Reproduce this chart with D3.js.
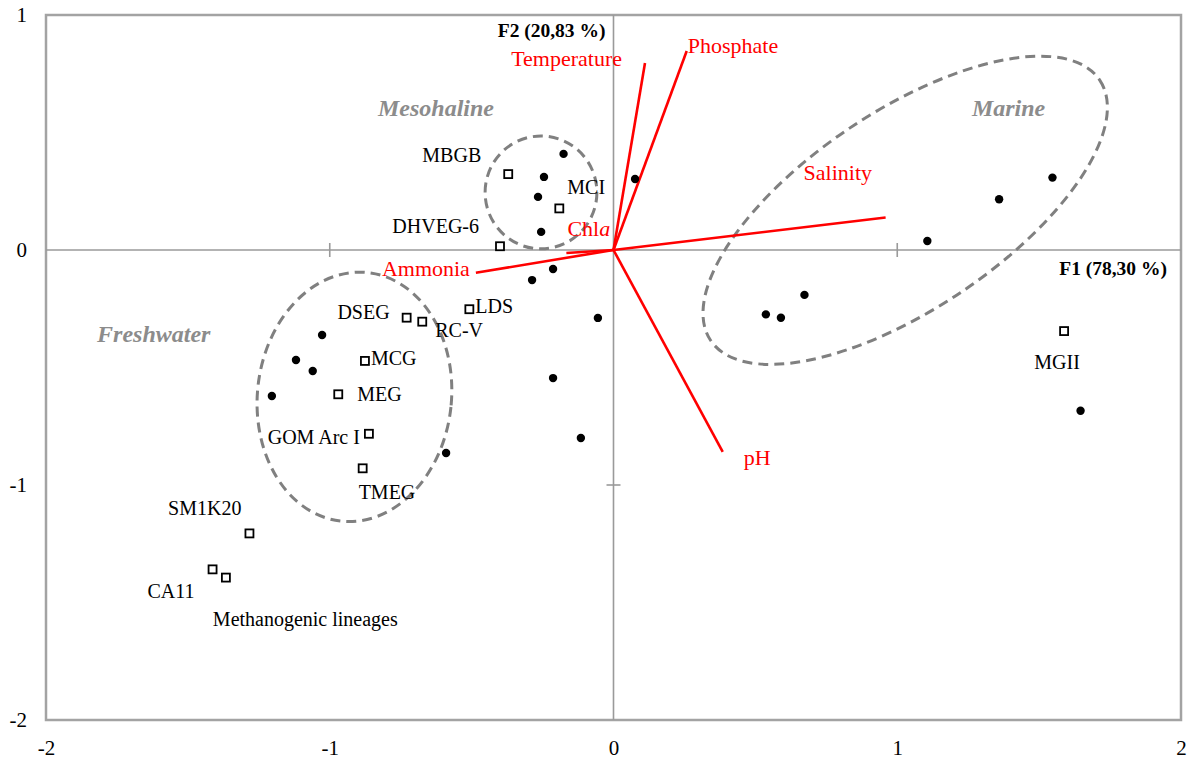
<!DOCTYPE html>
<html>
<head>
<meta charset="utf-8">
<script src="https://cdn.jsdelivr.net/npm/d3@7"></script>
<style>
  body { margin: 0; background: #fff; }
  svg { display: block; font-family: "Liberation Serif", "Times New Roman", serif; }
</style>
</head>
<body>
<div id="chart"></div>
<script>
// sites (black dots), F1 / F2 scores
var siteX = [-0.176, -0.245, -0.266, -0.255, 0.076, -0.213, -0.287, -0.055, -0.213, -0.115, -0.590,
             -1.027, -1.119, -1.060, -1.204, 1.106, 1.359, 1.547, 0.537, 0.590, 0.673, 1.646];
var siteY = [0.409, 0.311, 0.226, 0.077, 0.302, -0.081, -0.128, -0.289, -0.545, -0.800, -0.864,
             -0.362, -0.468, -0.515, -0.621, 0.038, 0.216, 0.308, -0.274, -0.288, -0.191, -0.684];

// archaeal lineages (open squares)
var lineageNames = ["MBGB", "MCI", "DHVEG-6", "LDS", "DSEG", "RC-V", "MCG", "MEG", "GOM Arc I",
                    "TMEG", "SM1K20", "CA11", "", "MGII"];
var lineageX = [-0.371, -0.191, -0.400, -0.508, -0.729, -0.674, -0.876, -0.970, -0.862,
                -0.884, -1.283, -1.413, -1.366, 1.588];
var lineageY = [0.323, 0.177, 0.016, -0.252, -0.288, -0.305, -0.472, -0.614, -0.782,
                -0.929, -1.206, -1.359, -1.394, -0.345];

// environmental variables (red vectors)
var varNames = ["Temperature", "Phosphate", "Salinity", "Ammonia", "pH", "Chla"];
var varX = [0.111, 0.258, 0.959, -0.485, 0.385, -0.166];
var varY = [0.796, 0.847, 0.138, -0.097, -0.859, -0.013];

var xTicks = [-2, -1, 0, 1, 2];
var yTicks = [-2, -1, 0, 1];

// label placement (px offsets from the mark)
var lineageLabelPos = {
  "MBGB": [-27, -12, "end"], "MCI": [8, -14, "start"], "DHVEG-6": [-21, -13, "end"],
  "LDS": [6, 4, "start"], "DSEG": [-17, 1, "end"], "RC-V": [13, 15, "start"],
  "MCG": [6, 4, "start"], "MEG": [19, 7, "start"], "GOM Arc I": [-9, 10, "end"],
  "TMEG": [-4, 31, "start"], "SM1K20": [-8, -18, "end"], "CA11": [-18, 29, "end"],
  "MGII": [-7, 38, "middle"]
};
var varLabelPos = {
  "Temperature": [-23, 3, "end"], "Phosphate": [1, 2, "start"], "Salinity": [-82, -38, "start"],
  "Ammonia": [-6, 3, "end"], "pH": [21, 13, "start"], "Chla": [1, -17, "start"]
};

// habitat groups: centre and radii in axis units, rotation in degrees
var groups = [
  { name: "Mesohaline", cx: -0.2555, cy: 0.245, rx: 0.197, ry: 0.240, rot: 0, lx: -0.830, ly: 0.570 },
  { name: "Freshwater", cx: -0.913, cy: -0.625, rx: 0.342, ry: 0.532, rot: 6, lx: -1.820, ly: -0.391 },
  { name: "Marine", cx: 1.028, cy: 0.169, rx: 0.825, ry: 0.422, rot: -33.8, lx: 1.263, ly: 0.570 }
];

var width = 1193, height = 764;
var margin = { left: 46, right: 12, top: 15, bottom: 44 };

var x = d3.scaleLinear().domain([-2, 2]).range([margin.left, width - margin.right]);
var y = d3.scaleLinear().domain([-2, 1]).range([height - margin.bottom, margin.top]);
var kx = x(1) - x(0), ky = y(0) - y(1);

var svg = d3.select("#chart").append("svg")
    .attr("width", width)
    .attr("height", height);

// frame
svg.append("rect")
    .attr("x", x(-2)).attr("y", y(1))
    .attr("width", x(2) - x(-2)).attr("height", y(-2) - y(1))
    .style("fill", "none").style("stroke", "#a3a3a3").style("stroke-width", 2.5);

// zero lines
svg.append("line")
    .attr("x1", x(-2)).attr("x2", x(2)).attr("y1", y(0)).attr("y2", y(0))
    .style("stroke", "#9a9a9a").style("stroke-width", 1.6);
svg.append("line")
    .attr("x1", x(0)).attr("x2", x(0)).attr("y1", y(1)).attr("y2", y(-2))
    .style("stroke", "#9a9a9a").style("stroke-width", 1.6);

// tick marks on the zero lines
svg.selectAll(".xt").data([-1, 1]).enter().append("line")
    .attr("x1", function (d) { return x(d); }).attr("x2", function (d) { return x(d); })
    .attr("y1", y(0) - 7).attr("y2", y(0) + 7)
    .style("stroke", "#9a9a9a").style("stroke-width", 1.6);
svg.selectAll(".yt").data([-1]).enter().append("line")
    .attr("x1", x(0) - 7).attr("x2", x(0) + 7)
    .attr("y1", function (d) { return y(d); }).attr("y2", function (d) { return y(d); })
    .style("stroke", "#9a9a9a").style("stroke-width", 1.6);

// tick labels
var gx = svg.append("g")
    .attr("transform", "translate(0," + y(-2) + ")")
    .call(d3.axisBottom(x).tickValues(xTicks).tickSize(0).tickPadding(20).tickFormat(d3.format("d")));
var gy = svg.append("g")
    .attr("transform", "translate(" + x(-2) + ",0)")
    .call(d3.axisLeft(y).tickValues(yTicks).tickSize(0).tickPadding(19).tickFormat(d3.format("d")));
[gx, gy].forEach(function (g) {
  g.select(".domain").remove();
  g.selectAll("text")
      .style("font-family", "Liberation Serif, serif")
      .style("font-size", "21px")
      .style("fill", "#000")
      .text(function (d) { return String(d); });
});

// habitat ellipses
svg.selectAll(".grp").data(groups).enter().append("ellipse")
    .attr("cx", 0).attr("cy", 0)
    .attr("rx", function (d) { return d.rx * kx; })
    .attr("ry", function (d) { return d.ry * ky; })
    .attr("transform", function (d) {
      return "translate(" + x(d.cx) + "," + y(d.cy) + ") rotate(" + d.rot + ")";
    })
    .style("fill", "none").style("stroke", "#808080")
    .style("stroke-width", 3).style("stroke-dasharray", "10,6");

svg.selectAll(".grplab").data(groups).enter().append("text")
    .attr("x", function (d) { return x(d.lx); })
    .attr("y", function (d) { return y(d.ly); })
    .style("font-size", "24px").style("font-weight", "bold").style("font-style", "italic")
    .style("fill", "#8c8c8c")
    .text(function (d) { return d.name; });

// environmental vectors
var vars = varNames.map(function (n, i) { return { name: n, x: varX[i], y: varY[i] }; });
svg.selectAll(".vec").data(vars).enter().append("line")
    .attr("x1", x(0)).attr("y1", y(0))
    .attr("x2", function (d) { return x(d.x); })
    .attr("y2", function (d) { return y(d.y); })
    .style("stroke", "#ff0000").style("stroke-width", 2.6);

var vlab = svg.selectAll(".veclab").data(vars).enter().append("text")
    .attr("x", function (d) { return x(d.x) + varLabelPos[d.name][0]; })
    .attr("y", function (d) { return y(d.y) + varLabelPos[d.name][1]; })
    .attr("text-anchor", function (d) { return varLabelPos[d.name][2]; })
    .style("font-size", "22px").style("fill", "#ff0000");
vlab.each(function (d) {
  var t = d3.select(this);
  if (d.name === "Chla") {
    t.append("tspan").text("Chl");
    t.append("tspan").style("font-style", "italic").text("a");
  } else {
    t.text(d.name);
  }
});

// sites
var sites = siteX.map(function (v, i) { return { x: v, y: siteY[i] }; });
svg.selectAll(".site").data(sites).enter().append("circle")
    .attr("cx", function (d) { return x(d.x); })
    .attr("cy", function (d) { return y(d.y); })
    .attr("r", 4.2)
    .style("fill", "#000");

// lineages
var lineages = lineageNames.map(function (n, i) { return { name: n, x: lineageX[i], y: lineageY[i] }; });
svg.selectAll(".lin").data(lineages).enter().append("rect")
    .attr("x", function (d) { return x(d.x) - 4; })
    .attr("y", function (d) { return y(d.y) - 4; })
    .attr("width", 8).attr("height", 8)
    .style("fill", "#fff").style("stroke", "#000").style("stroke-width", 1.8);

svg.selectAll(".linlab").data(lineages.filter(function (d) { return d.name; })).enter().append("text")
    .attr("x", function (d) { return x(d.x) + lineageLabelPos[d.name][0]; })
    .attr("y", function (d) { return y(d.y) + lineageLabelPos[d.name][1]; })
    .attr("text-anchor", function (d) { return lineageLabelPos[d.name][2]; })
    .style("font-size", "20px").style("fill", "#000")
    .text(function (d) { return d.name; });

svg.append("text")
    .attr("x", x(-1.412)).attr("y", y(-1.600))
    .style("font-size", "20px").style("fill", "#000")
    .text("Methanogenic lineages");

// axis titles
svg.append("text")
    .attr("x", x(0) - 8).attr("y", y(1) + 22)
    .attr("text-anchor", "end")
    .style("font-size", "19.5px").style("font-weight", "bold")
    .text("F2 (20,83 %)");
svg.append("text")
    .attr("x", x(2) - 14).attr("y", y(0) + 25)
    .attr("text-anchor", "end")
    .style("font-size", "19.5px").style("font-weight", "bold")
    .text("F1 (78,30 %)");
</script>
</body>
</html>
